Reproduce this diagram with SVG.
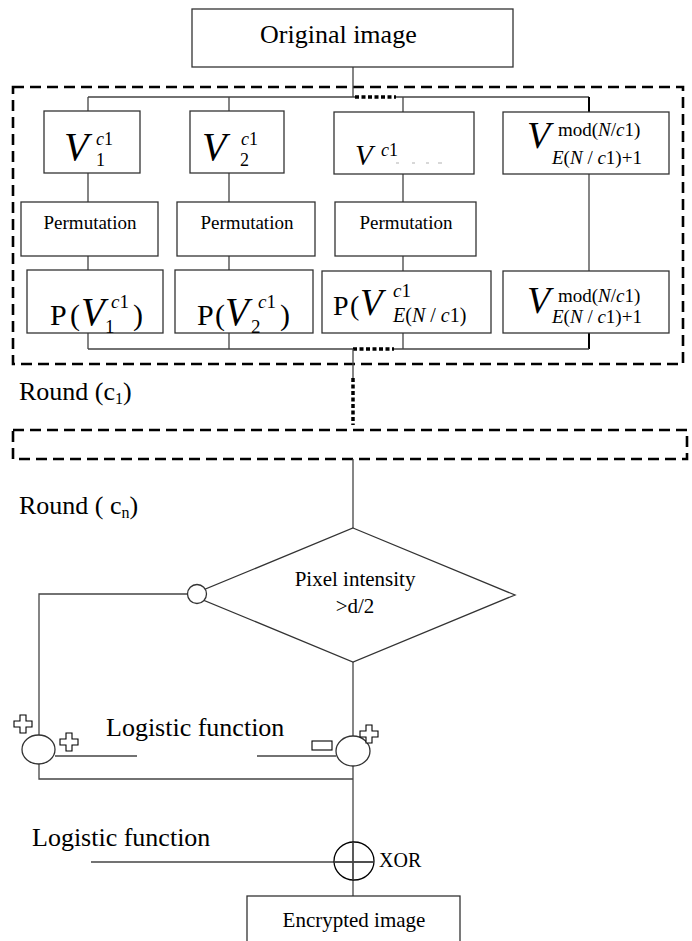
<svg xmlns="http://www.w3.org/2000/svg" width="692" height="941" viewBox="0 0 692 941" font-family="'Liberation Serif', 'Times New Roman', serif">
<style>
 .box{fill:#fff;stroke:#333;stroke-width:1.3}
 .ln{fill:none;stroke:#444;stroke-width:1.3}
 .dk{fill:none;stroke:#000;stroke-width:2}
 .dash{fill:none;stroke:#000;stroke-width:2.6;stroke-dasharray:11 6}
 .dot{fill:none;stroke:#000;stroke-width:3.5;stroke-dasharray:4 2.5}
 .sym{fill:#fff;stroke:#000;stroke-width:1.1}
 text{font-family:"Liberation Serif","Times New Roman",serif;fill:#000}
 .it{font-style:italic}
</style>
<defs>
 <path id="plus" d="M-3,-9h6v6h6v6h-6v6h-6v-6h-6v-6h6z"/>
</defs>
<rect x="0" y="0" width="692" height="941" fill="#fff"/>

<g id="rounds">
 <rect id="round1" class="dash" x="13" y="87" width="670" height="277"/>
 <rect id="roundn" class="dash" x="13" y="430" width="674" height="29"/>
 <text x="19" y="400" font-size="26">Round (c<tspan font-size="16" dy="4">1</tspan><tspan dy="-4">)</tspan></text>
 <text x="19" y="514" font-size="26">Round ( c<tspan font-size="16" dy="4">n</tspan><tspan dy="-4">)</tspan></text>
</g>

<g id="connectors">
 <path class="ln" d="M353,67V97 M88,97H355 M396,97H589"/>
 <path class="dot" d="M355,97H396"/>
 <path class="ln" d="M88,97V111 M88,173V202 M88,256V270 M88,333V349"/>
 <path class="ln" d="M229,97V111 M229,173V202 M229,256V270 M229,333V349"/>
 <path class="ln" d="M403,97V112 M403,174V202 M403,256V271 M403,333V349"/>
 <path class="dk" d="M589,97V112 M589,333V349"/>
 <path class="ln" d="M589,174V271"/>
 <path class="ln" d="M88,349H353 M394,349H589"/>
 <path class="dot" d="M353,349H394"/>
 <path class="ln" d="M353,349V378"/>
 <path class="dot" d="M353,378V425"/>
 <path class="ln" d="M353,459V528"/>
 <path class="ln" d="M187.5,594H39V735"/>
 <path class="ln" d="M353,662V736"/>
 <path class="ln" d="M39,764V779H353"/>
 <path class="ln" d="M55,756H137 M257,756H336"/>
 <path class="ln" d="M353,766V896"/>
 <path class="ln" d="M91,862H374"/>
</g>

<g id="original">
 <rect class="box" x="192" y="9" width="321" height="58"/>
 <text x="260" y="43" font-size="26">Original image</text>
</g>

<g id="v1">
 <rect class="box" x="44" y="111" width="96" height="62"/>
 <text><tspan class="it" x="64" y="160" font-size="40">V</tspan><tspan x="96" y="145" font-size="18"><tspan class="it">c</tspan>1</tspan><tspan x="96" y="166" font-size="18">1</tspan></text>
</g>
<g id="v2">
 <rect class="box" x="190" y="111" width="94" height="62"/>
 <text><tspan class="it" x="202" y="160" font-size="40">V</tspan><tspan x="241" y="145" font-size="18"><tspan class="it">c</tspan>1</tspan><tspan x="240" y="166" font-size="18">2</tspan></text>
</g>
<g id="v3">
 <rect class="box" x="334" y="112" width="140" height="62"/>
 <text><tspan class="it" x="355" y="165" font-size="29">V</tspan><tspan x="381" y="156" font-size="18"><tspan class="it">c</tspan>1</tspan></text>
 <path d="M396,163h3 M412,163h3 M426,163h3 M438,163h4" stroke="#ccc" stroke-width="1.5"/>
</g>
<g id="vmod1">
 <rect class="box" x="503" y="112" width="166" height="62"/>
 <text><tspan class="it" x="527" y="148" font-size="38">V</tspan><tspan x="558" y="136" font-size="19">mod(<tspan class="it">N</tspan>/<tspan class="it">c</tspan>1)</tspan><tspan x="552" y="164" font-size="19"><tspan class="it">E</tspan>(<tspan class="it">N</tspan> /<tspan class="it"> c</tspan>1)+1</tspan></text>
</g>

<g id="perm1">
 <rect class="box" x="21" y="202" width="137" height="54"/>
 <text x="90" y="229" font-size="19" text-anchor="middle">Permutation</text>
</g>
<g id="perm2">
 <rect class="box" x="177" y="202" width="138" height="54"/>
 <text x="247" y="229" font-size="19" text-anchor="middle">Permutation</text>
</g>
<g id="perm3">
 <rect class="box" x="335" y="202" width="141" height="54"/>
 <text x="406" y="229" font-size="19" text-anchor="middle">Permutation</text>
</g>

<g id="p1">
 <rect class="box" x="27" y="270" width="136" height="63"/>
 <text><tspan x="50" y="325" font-size="30">P</tspan><tspan x="70" y="325" font-size="30">(</tspan><tspan class="it" x="81" y="325" font-size="39">V</tspan><tspan x="111" y="308" font-size="19"><tspan class="it">c</tspan>1</tspan><tspan x="105" y="333" font-size="19">1</tspan><tspan x="133" y="325" font-size="30">)</tspan></text>
</g>
<g id="p2">
 <rect class="box" x="175" y="270" width="138" height="63"/>
 <text><tspan x="197" y="325" font-size="30">P</tspan><tspan x="215" y="325" font-size="30">(</tspan><tspan class="it" x="225" y="325" font-size="39">V</tspan><tspan x="258" y="308" font-size="19"><tspan class="it">c</tspan>1</tspan><tspan x="251" y="333" font-size="19">2</tspan><tspan x="280" y="325" font-size="30">)</tspan></text>
</g>
<g id="p3">
 <rect class="box" x="322" y="271" width="169" height="62"/>
 <text><tspan x="333" y="315" font-size="28">P</tspan><tspan x="350" y="315" font-size="28">(</tspan><tspan class="it" x="360" y="315" font-size="37">V</tspan><tspan x="393" y="297" font-size="19"><tspan class="it">c</tspan>1</tspan><tspan x="393" y="322" font-size="20"><tspan class="it">E</tspan>(<tspan class="it">N</tspan> /<tspan class="it"> c</tspan>1)</tspan></text>
</g>
<g id="vmod3">
 <rect class="box" x="503" y="271" width="166" height="62"/>
 <text><tspan class="it" x="527" y="313" font-size="38">V</tspan><tspan x="558" y="302" font-size="19">mod(<tspan class="it">N</tspan>/<tspan class="it">c</tspan>1)</tspan><tspan x="552" y="323" font-size="19"><tspan class="it">E</tspan>(<tspan class="it">N</tspan> /<tspan class="it"> c</tspan>1)+1</tspan></text>
</g>

<g id="decision">
 <polygon class="box" stroke="#000" points="353,528 515,595 353,662 191,595"/>
 <circle class="box" stroke="#000" cx="197" cy="594" r="9.5"/>
 <text x="355" y="586" font-size="21" text-anchor="middle">Pixel intensity</text>
 <text x="355" y="613" font-size="21" text-anchor="middle">&gt;d/2</text>
</g>

<g id="logistic1">
 <text x="106" y="736" font-size="26">Logistic function</text>
</g>

<g id="sumLeft">
 <ellipse class="box" stroke="#000" cx="38.5" cy="749.5" rx="16.5" ry="14.5"/>
 <use href="#plus" class="sym" x="23" y="724"/>
 <use href="#plus" class="sym" x="69" y="742"/>
</g>

<g id="sumRight">
 <ellipse class="box" stroke="#000" cx="353" cy="751" rx="17" ry="15"/>
 <use href="#plus" class="sym" x="369" y="734"/>
 <rect class="sym" x="312" y="741" width="20" height="9"/>
</g>

<g id="logistic2">
 <text x="32" y="846" font-size="26">Logistic function</text>
</g>

<g id="xor">
 <ellipse fill="none" stroke="#000" stroke-width="1.3" cx="354" cy="861" rx="20" ry="19"/>
 <path class="ln" d="M353,842V880 M334,862H374"/>
 <text x="379" y="867" font-size="20">XOR</text>
</g>

<g id="encrypted">
 <rect class="box" stroke="#000" x="247" y="896" width="213" height="60"/>
 <text x="354" y="927" font-size="21" text-anchor="middle">Encrypted image</text>
</g>
</svg>
